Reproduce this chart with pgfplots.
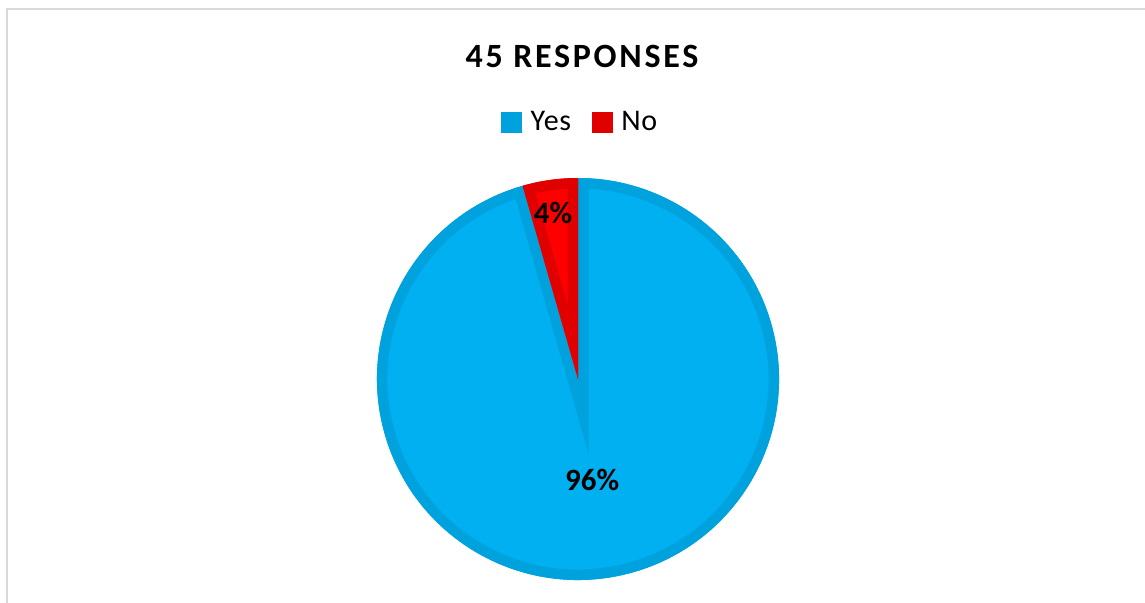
\documentclass[border=0pt]{standalone}
\usepackage{pgfplots}
\pgfplotsset{compat=1.18}
\usepackage{pgfplotstable}
\usepackage{fontspec}
\setmainfont{Carlito}
\newfontfamily\titlefont[LetterSpace=8]{Carlito}
\newfontfamily\legfont[LetterSpace=2]{Carlito}
\definecolor{yesfill}{HTML}{00B0F0}
\definecolor{yesline}{HTML}{00A2DE}
\definecolor{nofill}{HTML}{FF0000}
\definecolor{noline}{HTML}{E00000}
\definecolor{framegray}{HTML}{D9D9D9}

\pgfplotstableread{
label value
Yes 43
No 2
}\piedata

\begin{document}
\begin{tikzpicture}
\path[use as bounding box] (0,0) rectangle (572.5pt,-301.5pt);
\draw[framegray, line width=1pt] (3.25pt,-302pt) -- (3.25pt,-4.75pt) -- (573pt,-4.75pt);
\node[font=\titlefont\bfseries\fontsize{17}{20}\selectfont] at (291pt,-28pt) {45 RESPONSES};
\pgfplotstablegetelem{0}{value}\of\piedata \let\vyes\pgfplotsretval
\pgfplotstablegetelem{1}{value}\of\piedata \let\vno\pgfplotsretval
\pgfmathsetmacro\tot{\vyes+\vno}
\pgfmathsetmacro\aNo{90+360*\vno/\tot}
\pgfmathsetmacro\aEnd{450}
\begin{axis}[at={(289pt,-189.5pt)}, anchor=center, scale only axis,
  width=201pt, height=201pt, xmin=-1, xmax=1, ymin=-1, ymax=1,
  hide axis, clip=false,
  legend image code/.code={\fill[#1] (0pt,-5pt) rectangle (10pt,5pt); \path (11.5pt,0pt);},
  legend columns=2,
  legend style={draw=none, fill=none, at={(0.51,1.139)}, anchor=center,
    font=\legfont\fontsize{15}{18}\selectfont, inner sep=0pt,
    nodes={inner xsep=2.75pt},
    /tikz/every even column/.append style={column sep=7.75pt}},
]
% Yes slice
\fill[yesfill] (axis cs:0,0) -- (axis cs:{cos(\aNo)},{sin(\aNo)}) arc[start angle=\aNo, end angle=\aEnd, radius=100.5pt] -- cycle;
\begin{scope}
\clip (axis cs:0,0) -- (axis cs:{cos(\aNo)},{sin(\aNo)}) arc[start angle=\aNo, end angle=\aEnd, radius=100.5pt] -- cycle;
\draw[yesline, line width=10.5pt, line join=miter] (axis cs:0,0) -- (axis cs:{cos(\aNo)},{sin(\aNo)}) arc[start angle=\aNo, end angle=\aEnd, radius=100.5pt] -- cycle;
\end{scope}
% No slice
\fill[nofill] (axis cs:0,0) -- (axis cs:0,1) arc[start angle=90, end angle=\aNo, radius=100.5pt] -- cycle;
\begin{scope}
\clip (axis cs:0,0) -- (axis cs:0,1) arc[start angle=90, end angle=\aNo, radius=100.5pt] -- cycle;
\draw[noline, line width=10.5pt, line join=miter] (axis cs:0,0) -- (axis cs:0,1) arc[start angle=90, end angle=\aNo, radius=100.5pt] -- cycle;
\end{scope}
\addlegendimage{yesline}
\addlegendentry{Yes}
\addlegendimage{noline}
\addlegendentry{No}
\node[font=\bfseries\fontsize{15.5}{18}\selectfont] at (axis cs:-0.124,0.826) {4\%};
\node[font=\bfseries\fontsize{15.5}{18}\selectfont] at (axis cs:0.07,-0.502) {96\%};
\end{axis}
\end{tikzpicture}
\end{document}
